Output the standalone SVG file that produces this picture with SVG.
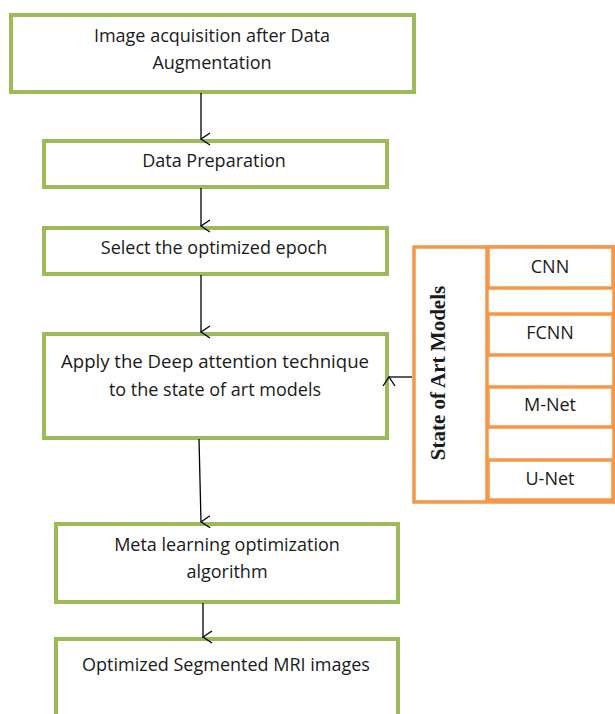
<svg xmlns="http://www.w3.org/2000/svg" width="615" height="714" viewBox="0 0 615 714">
<defs>
<marker id="ah" markerWidth="14" markerHeight="14" refX="7" refY="12" orient="auto" markerUnits="userSpaceOnUse" viewBox="0 0 14 14">
<polyline points="1,3 7,12 13,3" fill="none" stroke="#000" stroke-width="1.3"/>
</marker>
<style>
.g{fill:#fff;stroke:#9bbb59;stroke-width:4}
.o{fill:#fff;stroke:#f79646;stroke-width:3.5}
.t{font-family:"Open Sans","Liberation Sans",sans-serif;font-size:18px;fill:#1a1a1a;text-anchor:middle}
.c{stroke:#000;stroke-width:1.3;fill:none;marker-end:url(#ah)}
</style>
</defs>
<rect width="615" height="714" fill="#fff"/>
<g id="n1"><rect class="g" x="11" y="15" width="403" height="77"/><text class="t" x="212" y="42">Image acquisition after Data</text><text class="t" x="212" y="69">Augmentation</text></g>
<g id="n2"><rect class="g" x="44" y="141" width="343" height="46"/><text class="t" x="214" y="167">Data Preparation</text></g>
<g id="n3"><rect class="g" x="44" y="228" width="343" height="46"/><text class="t" x="214" y="254">Select the optimized epoch</text></g>
<g id="n4"><rect class="g" x="44" y="334" width="343" height="104"/><text class="t" x="215" y="368" textLength="308" lengthAdjust="spacingAndGlyphs">Apply the Deep attention technique</text><text class="t" x="215" y="396">to the state of art models</text></g>
<g id="n5"><rect class="g" x="56" y="524" width="342" height="78"/><text class="t" x="227" y="551">Meta learning optimization</text><text class="t" x="227" y="578">algorithm</text></g>
<g id="n6"><rect class="g" x="56" y="639" width="342" height="90"/><text class="t" x="226" y="671">Optimized Segmented MRI images</text></g>
<g id="sam">
<rect class="o" x="414" y="247" width="200" height="255"/>
<line x1="487" y1="247" x2="487" y2="502" stroke="#f79646" stroke-width="3.5"/>
<text x="445" y="373" transform="rotate(-90 445 373)" font-family="'Liberation Serif',serif" font-weight="bold" font-size="21" fill="#1a1a1a" text-anchor="middle">State of Art Models</text>
</g>
<g id="cnn"><rect class="o" x="488" y="247" width="125" height="41"/><text class="t" x="550" y="273">CNN</text></g>
<g id="fcnn"><rect class="o" x="488" y="314" width="125" height="41"/><text class="t" x="550" y="339">FCNN</text></g>
<g id="mnet"><rect class="o" x="488" y="387" width="125" height="40"/><text class="t" x="550" y="411">M-Net</text></g>
<g id="unet"><rect class="o" x="488" y="460" width="125" height="40"/><text class="t" x="550" y="485">U-Net</text></g>
<g id="connectors">
<line class="c" x1="201" y1="93" x2="201" y2="139"/>
<line class="c" x1="201" y1="188" x2="201" y2="226"/>
<line class="c" x1="201" y1="275" x2="201" y2="332"/>
<line class="c" x1="199" y1="439" x2="201" y2="522"/>
<line class="c" x1="203" y1="603" x2="203" y2="637"/>
<line class="c" x1="412" y1="377" x2="389" y2="377"/>
</g>
</svg>
